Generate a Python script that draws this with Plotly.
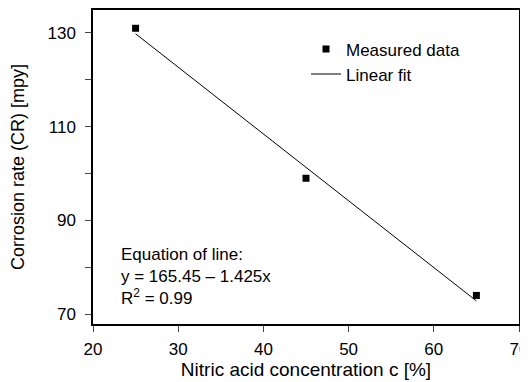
import plotly.graph_objects as go

conc = [25, 45, 65]
cr = [131, 99, 74]
intercept = 165.45
slope = -1.425
fit_x = [25, 65]
fit_y = [intercept + slope * x for x in fit_x]

x_ticks = [20, 30, 40, 50, 60, 70]
y_ticks = [70, 90, 110, 130]
y_minor = [80, 100, 120]

font = "Liberation Sans, Arial, sans-serif"

fig = go.Figure()
fig.add_trace(go.Scatter(x=conc, y=cr, mode="markers", name="Measured data",
                         marker=dict(symbol="square", size=7, color="black")))
fig.add_trace(go.Scatter(x=fit_x, y=fit_y, mode="lines", name="Linear fit",
                         line=dict(color="black", width=1)))

# page body has an 8px margin, so the figure is 520x374 and offset by 8px
fig.update_layout(
    width=520, height=374,
    margin=dict(l=85, r=9, t=2, b=58),
    paper_bgcolor="white", plot_bgcolor="white",
    font=dict(family=font, size=17, color="black"),
    showlegend=True,
    legend=dict(x=0.5, y=0.932, xanchor="left", yanchor="top",
                bgcolor="rgba(0,0,0,0)", font=dict(size=17),
                tracegroupgap=0, itemwidth=30),
    xaxis=dict(range=[20, 70], tickvals=x_ticks, ticks="outside", ticklen=6,
               showline=True, linecolor="black", linewidth=1.5, mirror=True,
               showgrid=False, zeroline=False, automargin=False,
               tickfont=dict(size=17), ticklabelstandoff=3,
               ticklabeloverflow="allow",
               title=dict(text="Nitric acid concentration c [%]", font=dict(size=19), standoff=4)),
    yaxis=dict(range=[67.9, 134.9], tickvals=y_ticks, ticks="outside", ticklen=6,
               showline=True, linecolor="black", linewidth=1.5, mirror=True,
               showgrid=False, zeroline=False, automargin=False,
               tickfont=dict(size=17), ticklabelstandoff=6,
               ticklabeloverflow="allow",
               minor=dict(tickvals=y_minor, ticks="outside", ticklen=6),
               title=dict(text="Corrosion rate (CR) [mpy]", font=dict(size=18), standoff=25)),
)

fig.add_annotation(xref="paper", yref="paper", x=(119 - 93) / 426, y=1 - (243 - 10) / 314,
                   xanchor="left", yanchor="top",
                   showarrow=False, align="left",
                   text="Equation of line:<br>y = 165.45 – 1.425x<br>R<sup>2</sup> = 0.99",
                   font=dict(size=17))

fig.write_html("out.html")
